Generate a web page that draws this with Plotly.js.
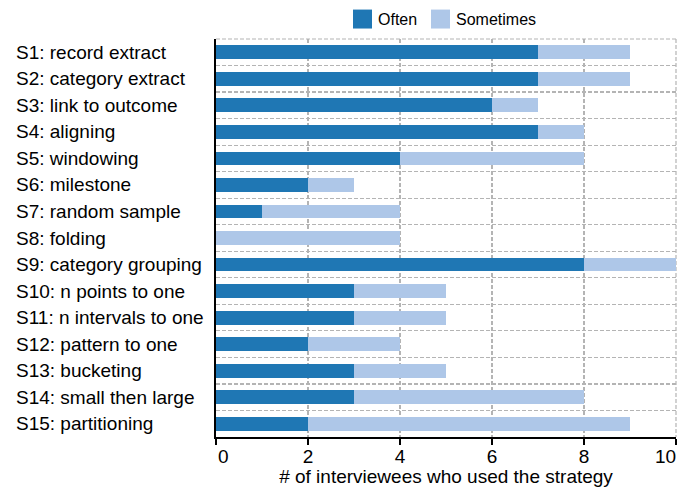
<!DOCTYPE html>
<html>
<head>
<meta charset="utf-8">
<script src="https://cdn.plot.ly/plotly-3.0.1.min.js"></script>
<style>
  html, body { margin: 0; padding: 0; background: #fff; }
  #chart { width: 682px; height: 487px; }
</style>
</head>
<body>
<div id="chart"></div>
<script>
// Strategies and how many interviewees used each one
const strategies = [
  "S1: record extract", "S2: category extract", "S3: link to outcome",
  "S4: aligning", "S5: windowing", "S6: milestone", "S7: random sample",
  "S8: folding", "S9: category grouping", "S10: n points to one",
  "S11: n intervals to one", "S12: pattern to one", "S13: bucketing",
  "S14: small then large", "S15: partitioning"
];
const often     = [7, 7, 6, 7, 4, 2, 1, 0, 8, 3, 3, 2, 3, 3, 2];
const sometimes = [2, 2, 1, 1, 4, 1, 3, 4, 2, 2, 2, 2, 2, 5, 7];
const seriesNames = ["Often", "Sometimes"];
const seriesColors = ["#1f77b4", "#aec7e8"];
const xTicks = [0, 2, 4, 6, 8, 10];

const W = 682, H = 487;
const M = { l: 216, r: 6, t: 38.5, b: 49.5 };
const plotW = W - M.l - M.r, plotH = H - M.t - M.b;
const px = v => (v - M.l) / plotW;      // pixel x -> paper x
const py = v => (H - M.b - v) / plotH;  // pixel y -> paper y

const FONT = "Liberation Sans, Arial, Helvetica, sans-serif";
const gridColor = "#b4b4b4";
const gridDash = "4px,2px";

const traces = [often, sometimes].map((vals, i) => ({
  type: "bar",
  orientation: "h",
  name: seriesNames[i],
  y: strategies,
  x: vals,
  marker: { color: seriesColors[i], line: { width: 0 } },
  hoverinfo: "x+y+name"
}));

// Category labels, left-aligned at the left edge of the figure
const annotations = strategies.map(s => ({
  xref: "paper", yref: "y",
  x: px(14), y: s,
  xanchor: "left", yanchor: "middle",
  text: s, showarrow: false,
  font: { family: FONT, size: 19, color: "#000" }
}));

// End tick labels sit flush inside the axis: first one left-aligned, last one right-aligned
const firstTick = xTicks[0], lastTick = xTicks[xTicks.length - 1];
annotations.push({
  xref: "x", yref: "paper", x: firstTick, y: py(457),
  xanchor: "left", yanchor: "middle", showarrow: false,
  text: String(firstTick), font: { family: FONT, size: 19, color: "#000" }
});
annotations.push({
  xref: "x", yref: "paper", x: lastTick, y: py(457),
  xanchor: "right", yanchor: "middle", showarrow: false, xshift: 2,
  text: String(lastTick), font: { family: FONT, size: 19, color: "#000" }
});

// Legend drawn by hand so the swatches are full-size squares
const legendItems = [
  { sx: 353, tx: 376 },
  { sx: 431, tx: 454 }
];
const shapes = [];
legendItems.forEach((it, i) => {
  shapes.push({
    type: "rect", xref: "paper", yref: "paper",
    x0: px(it.sx), x1: px(it.sx + 19),
    y0: py(28), y1: py(9),
    fillcolor: seriesColors[i], line: { width: 0 }
  });
  annotations.push({
    xref: "paper", yref: "paper",
    x: px(it.tx), y: py(18.5),
    xanchor: "left", yanchor: "middle",
    text: seriesNames[i], showarrow: false,
    font: { family: FONT, size: 16, color: "#000" }
  });
});

// Dashed frame along the top and right edges
shapes.push({
  type: "line", xref: "paper", yref: "paper",
  x0: 0, x1: 1, y0: 1, y1: 1,
  line: { color: gridColor, width: 1.2, dash: gridDash }, layer: "below"
});
shapes.push({
  type: "line", xref: "paper", yref: "paper",
  x0: 1, x1: 1, y0: 1, y1: 0,
  line: { color: gridColor, width: 1.2, dash: gridDash }, layer: "below"
});

const layout = {
  width: W, height: H,
  margin: M,
  paper_bgcolor: "#fff", plot_bgcolor: "#fff",
  barmode: "stack",
  bargap: 0.48,
  showlegend: false,
  font: { family: FONT, size: 19, color: "#000" },
  xaxis: {
    range: [0, 10],
    tickvals: xTicks,
    ticktext: xTicks.map(v => (v === firstTick || v === lastTick) ? "" : String(v)),
    ticks: "outside", ticklen: 6, tickwidth: 1.5, tickcolor: "#000",
    ticklabelstandoff: -5,
    tickfont: { family: FONT, size: 19, color: "#000" },
    showline: true, linecolor: "#000", linewidth: 2,
    showgrid: true, gridcolor: gridColor, gridwidth: 1.2, griddash: gridDash,
    zeroline: false,
    title: { text: "# of interviewees who used the strategy", standoff: 4,
             font: { family: FONT, size: 19, color: "#000" } },
    automargin: false, fixedrange: true
  },
  yaxis: {
    type: "category",
    categoryorder: "array", categoryarray: strategies,
    range: [strategies.length - 0.5, -0.5],
    showticklabels: false,
    ticks: "",
    tickson: "boundaries",
    showline: true, linecolor: "#000", linewidth: 2,
    showgrid: true, gridcolor: gridColor, gridwidth: 1.2, griddash: gridDash,
    zeroline: false,
    automargin: false, fixedrange: true
  },
  annotations: annotations,
  shapes: shapes
};

Plotly.newPlot("chart", traces, layout, { displayModeBar: false, staticPlot: true });
</script>
</body>
</html>
